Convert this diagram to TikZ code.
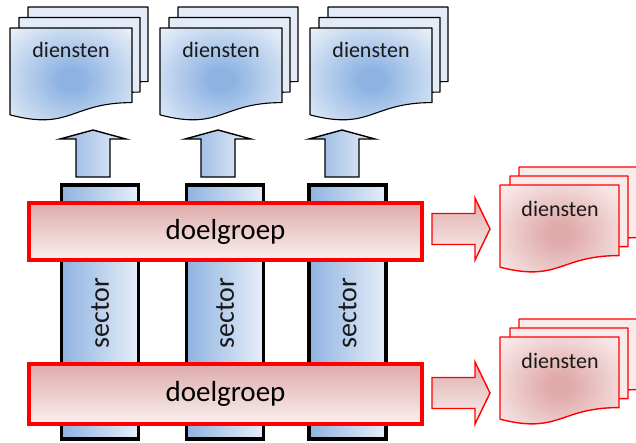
\documentclass[tikz,border=0pt]{standalone}
\usepackage{fontspec}
\setmainfont{Carlito}
\definecolor{dblue}{HTML}{8DB3E2}
\definecolor{dlight}{HTML}{EEF3FA}
\definecolor{bpage}{HTML}{E3EBF7}
\definecolor{dred}{HTML}{E0AAAA}
\definecolor{rlight}{HTML}{FCF2F2}
\definecolor{rpage}{HTML}{FAEBEB}
\definecolor{barTop}{HTML}{DEABAB}
\definecolor{barBot}{HTML}{FBF0F0}
\definecolor{pureRed}{HTML}{FF0000}
\definecolor{colLeft}{HTML}{8FB3E1}
\definecolor{colRight}{HTML}{E7EEF8}
\pgfdeclareradialshading{docblue}{\pgfpoint{0bp}{0bp}}{color(0bp)=(dblue); color(5bp)=(dblue); color(36bp)=(dlight); color(50bp)=(dlight)}
\pgfdeclareradialshading{docred}{\pgfpoint{0bp}{0bp}}{color(0bp)=(dred); color(5bp)=(dred); color(36bp)=(rlight); color(50bp)=(rlight)}
\newcommand\docpath{(0,0) -- (1,0) -- (1,-0.802) .. controls (0.5,-0.802) and (0.5,-1.107) .. (0,-0.934) -- cycle}
\newcommand\uparr{(0,0) -- (33,-9) -- (17,-9) -- (17,-47) -- (-17,-47) -- (-17,-9) -- (-33,-9) -- cycle}
\newcommand\rarr{(0,0) -- (-15,31) -- (-15,15.5) -- (-58,15.5) -- (-58,-15.5) -- (-15,-15.5) -- (-15,-31) -- cycle}
\tikzset{
  bluepage/.style={fill=bpage, draw=black, line width=1.1pt, line join=round},
  bluefront/.style={shading=docblue, draw=black, line width=1.1pt, line join=round},
  redpage/.style={fill=rpage, draw=pureRed, line width=1.4pt, line join=round},
  redfront/.style={shading=docred, draw=pureRed, line width=1.4pt, line join=round},
  dtext/.style={font=\fontsize{22}{26}\selectfont, text=black!90},
  uparrow/.style={left color=colLeft, right color=colRight, draw=black, line width=1.4pt, line join=miter},
  rarrow/.style={top color=barTop, bottom color=barBot, draw=pureRed, line width=1.4pt, line join=miter},
  colbox/.style={draw=black, line width=3.5pt, left color=colLeft, right color=colRight, minimum width=77pt, minimum height=254pt, inner sep=0pt},
  barbox/.style={draw=pureRed, line width=4pt, top color=barTop, bottom color=barBot, minimum width=393pt, inner sep=0pt, font=\fontsize{29}{34}\selectfont},
  sectext/.style={rotate=90, font=\fontsize{28}{32}\selectfont, text=black!90}
}
\begin{document}
\begin{tikzpicture}[x=1pt,y=1pt]
\useasboundingbox (0,0) rectangle (636,-442);
% top document stacks
\foreach \dx/\nm in {0/a,150/b,300/c}{
  \path[bluepage, shift={(28+\dx,-7)}, xscale=120, yscale=93] \docpath;
  \path[bluepage, shift={(19+\dx,-17.5)}, xscale=121, yscale=93] \docpath;
  \path[bluefront, shift={(10+\dx,-28)}, xscale=122, yscale=93] \docpath;
  \node[dtext] (d\nm) at (71+\dx,-50) {diensten};
}
% up arrows
\foreach \dx/\nm in {0/a,125/b,249/c}{
  \coordinate (u\nm) at (93+\dx,-130);
  \path[uparrow, shift={(u\nm)}] \uparr;
}
% sector columns
\node[colbox] (s1) at (100,-312) {};
\node[colbox] (s2) at (225,-312) {};
\node[colbox] (s3) at (347.5,-312) {};
\node[sectext] (st1) at (100,-313) {sector};
\node[sectext] (st2) at (225,-313) {sector};
\node[sectext] (st3) at (347.5,-313) {sector};
% doelgroep bars
\node[barbox, minimum height=57pt] (g1) at (225.5,-231.5) {doelgroep};
\node[barbox, minimum height=60pt] (g2) at (225.5,-394) {doelgroep};
% right arrows
\coordinate (r1) at (490,-229);
\coordinate (r2) at (490,-393);
\path[rarrow, shift={(r1)}] \rarr;
\path[rarrow, shift={(r2)}] \rarr;
% red document stacks
\foreach \y/\nm in {185/a,337/b}{
  \path[redpage, shift={(519,-\y+18)}, xscale=120, yscale=88] \docpath;
  \path[redpage, shift={(510,-\y+9)}, xscale=118, yscale=88] \docpath;
  \path[redfront, shift={(500,-\y)}, xscale=119, yscale=88] \docpath;
  \node[dtext] (e\nm) at (560,-\y-24) {diensten};
}
\end{tikzpicture}
\end{document}
